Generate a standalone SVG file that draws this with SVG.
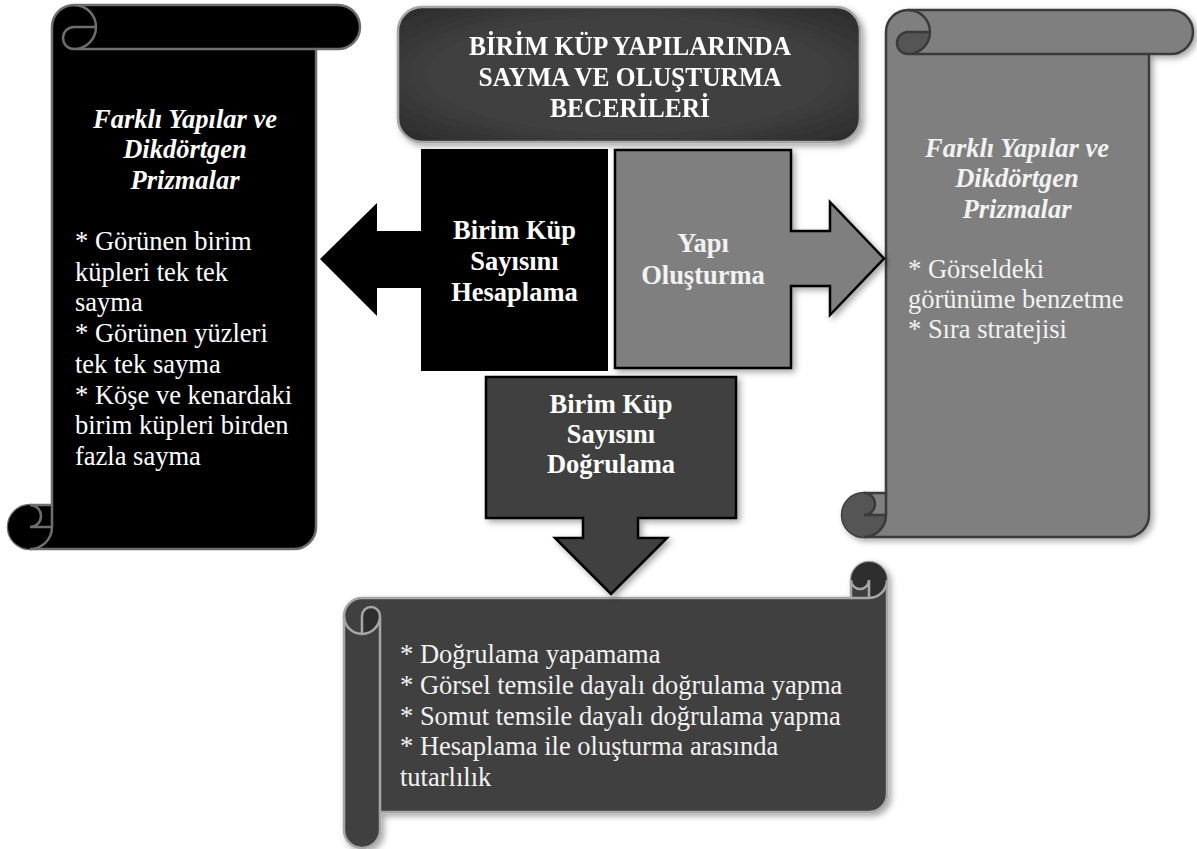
<svg xmlns="http://www.w3.org/2000/svg" width="1197" height="849" viewBox="0 0 1197 849">
<style>
  .t { font-family: "Liberation Serif", "Times New Roman", serif; font-size: 26.5px; fill: #ffffff; }
  .b { font-weight: bold; }
  .bi { font-weight: bold; font-style: italic; }
  .c { text-anchor: middle; }
  .lt { fill: #f2f2f2; }
  .big { font-size: 28px; }
</style>
<defs>
  <filter id="sh" x="-10%" y="-10%" width="125%" height="125%">
    <feDropShadow dx="3" dy="3" stdDeviation="3" flood-color="#000" flood-opacity="0.35"/>
  </filter>
  <linearGradient id="gR" x1="0" y1="0" x2="1" y2="0">
    <stop offset="0" stop-color="#5a5a5a"/>
    <stop offset="0.08" stop-color="#7f7f7f"/>
    <stop offset="1" stop-color="#7f7f7f"/>
  </linearGradient>
  <radialGradient id="gT" cx="0.5" cy="0.5" r="0.7">
    <stop offset="0.6" stop-color="#404040"/>
    <stop offset="1" stop-color="#2a2a2a"/>
  </radialGradient>
</defs>

<g id="title" filter="url(#sh)">
  <rect x="398" y="7" width="462" height="135" rx="24" fill="url(#gT)" stroke="#a6a6a6" stroke-width="2.5"/>
  <g transform="translate(630,0) scale(0.91,1)">
    <text class="t b c big" x="0" y="55">BİRİM KÜP YAPILARINDA</text>
    <text class="t b c big" x="0" y="86">SAYMA VE OLUŞTURMA</text>
    <text class="t b c big" x="0" y="117">BECERİLERİ</text>
  </g>
</g>

<g id="left-scroll">
  <path d="M52,505 L52,27 A22,22 0 0 1 74,5 L338,5 A22,22 0 0 1 338,49 L316,49 L316,527 A22,22 0 0 1 294,549 L30,549 A22,22 0 0 1 30,505 Z" fill="#000" stroke="#6e6e6e" stroke-width="2.5"/>
  <path d="M96,27 A22,22 0 0 1 74,49 A11,11 0 0 1 74,27 Z M52,527 A22,22 0 1 1 30,505 A11,11 0 0 1 30,527 Z" fill="#000"/>
  <path d="M74,5 A22,22 0 0 1 74,49 A11,11 0 0 1 74,27 L96,27 M316,49 L74,49 M30,505 A11,11 0 0 1 30,527 L52,527 M30,549 A22,22 0 0 0 52,527 L52,505" fill="none" stroke="#6e6e6e" stroke-width="2.5"/>
  <text class="t bi c" x="185" y="128">Farklı Yapılar ve</text>
  <text class="t bi c" x="185" y="158">Dikdörtgen</text>
  <text class="t bi c" x="185" y="189">Prizmalar</text>
  <text class="t" x="75" y="250">* Görünen birim</text>
  <text class="t" x="75" y="280.7">küpleri tek tek</text>
  <text class="t" x="75" y="311.4">sayma</text>
  <text class="t" x="75" y="342.1">* Görünen yüzleri</text>
  <text class="t" x="75" y="372.8">tek tek sayma</text>
  <text class="t" x="75" y="403.5">* Köşe ve kenardaki</text>
  <text class="t" x="75" y="434.2">birim küpleri birden</text>
  <text class="t" x="75" y="464.9">fazla sayma</text>
</g>

<g id="right-scroll">
  <g filter="url(#sh)">
    <path d="M886,493 L886,32 A22,22 0 0 1 908,10 L1171,10 A22,22 0 0 1 1171,54 L1149,54 L1149,515 A22,22 0 0 1 1127,537 L864,537 A22,22 0 0 1 864,493 Z" fill="url(#gR)" stroke="#3a3a3a" stroke-width="2.5"/>
  </g>
  <path d="M930,32 A22,22 0 0 1 908,54 A11,11 0 0 1 908,32 Z M886,515 A22,22 0 1 1 864,493 A11,11 0 0 1 864,515 Z" fill="#555"/>
  <path d="M908,10 A22,22 0 0 1 908,54 A11,11 0 0 1 908,32 L930,32 M1149,54 L908,54 M864,493 A11,11 0 0 1 864,515 L886,515 M864,537 A22,22 0 0 0 886,515 L886,493" fill="none" stroke="#3a3a3a" stroke-width="2.5"/>
  <text class="t bi c lt" x="1017" y="157">Farklı Yapılar ve</text>
  <text class="t bi c lt" x="1017" y="187">Dikdörtgen</text>
  <text class="t bi c lt" x="1017" y="218">Prizmalar</text>
  <text class="t lt" x="908" y="278">* Görseldeki</text>
  <text class="t lt" x="908" y="308">görünüme benzetme</text>
  <text class="t lt" x="908" y="338">* Sıra stratejisi</text>
</g>

<g id="bottom-scroll">
  <g filter="url(#sh)">
    <path d="M344,616 A18,18 0 0 1 362,598 L851,598 L851,580 A18,18 0 0 1 887,580 L887,794 A18,18 0 0 1 869,812 L380,812 L380,830 A18,18 0 0 1 344,830 Z" fill="#404040" stroke="#a6a6a6" stroke-width="2.5"/>
  </g>
  <path d="M869,598 A18,18 0 1 0 851,580 A9,9 0 0 0 869,580 Z M362,634 A18,18 0 0 0 380,616 A9,9 0 0 0 362,616 Z" fill="#2e2e2e"/>
  <path d="M851,598 L869,598 A18,18 0 0 0 887,580 M869,598 L869,580 A9,9 0 0 1 851,580 M362,634 L362,616 A9,9 0 0 1 380,616 A18,18 0 0 1 344,616 M380,616 L380,812" fill="none" stroke="#a6a6a6" stroke-width="2.5"/>
  <text class="t lt" x="400" y="663">* Doğrulama yapamama</text>
  <text class="t lt" x="400" y="694">* Görsel temsile dayalı doğrulama yapma</text>
  <text class="t lt" x="400" y="725">* Somut temsile dayalı doğrulama yapma</text>
  <text class="t lt" x="400" y="755">* Hesaplama ile oluşturma arasında</text>
  <text class="t lt" x="400" y="786">tutarlılık</text>
</g>

<g id="connectors">
  <path id="arrow-left" d="M320,259 L377,203 L377,231 L421,231 L421,149 L608,149 L608,371 L421,371 L421,288 L377,288 L377,316 Z" fill="#000"/>
  <path id="arrow-right" d="M615,150 L791,150 L791,231 L830,231 L830,202 L884,258.5 L830,315 L830,286 L791,286 L791,368 L615,368 Z" fill="#7f7f7f" stroke="#000" stroke-width="2.5" filter="url(#sh)"/>
  <path id="arrow-down" d="M486,377 L736,377 L736,518 L638,518 L638,538 L667,538 L611,594 L555,538 L583,538 L583,518 L486,518 Z" fill="#404040" stroke="#000" stroke-width="2.5" filter="url(#sh)"/>
</g>

<g id="node-hesaplama">
  <text class="t b c" x="514.5" y="239">Birim Küp</text>
  <text class="t b c" x="514.5" y="270">Sayısını</text>
  <text class="t b c" x="514.5" y="301">Hesaplama</text>
</g>
<g id="node-yapi">
  <text class="t b c lt" x="703" y="252">Yapı</text>
  <text class="t b c lt" x="703" y="284">Oluşturma</text>
</g>
<g id="node-dogrulama">
  <text class="t b c" x="611" y="413">Birim Küp</text>
  <text class="t b c" x="611" y="443">Sayısını</text>
  <text class="t b c" x="611" y="473">Doğrulama</text>
</g>
</svg>
